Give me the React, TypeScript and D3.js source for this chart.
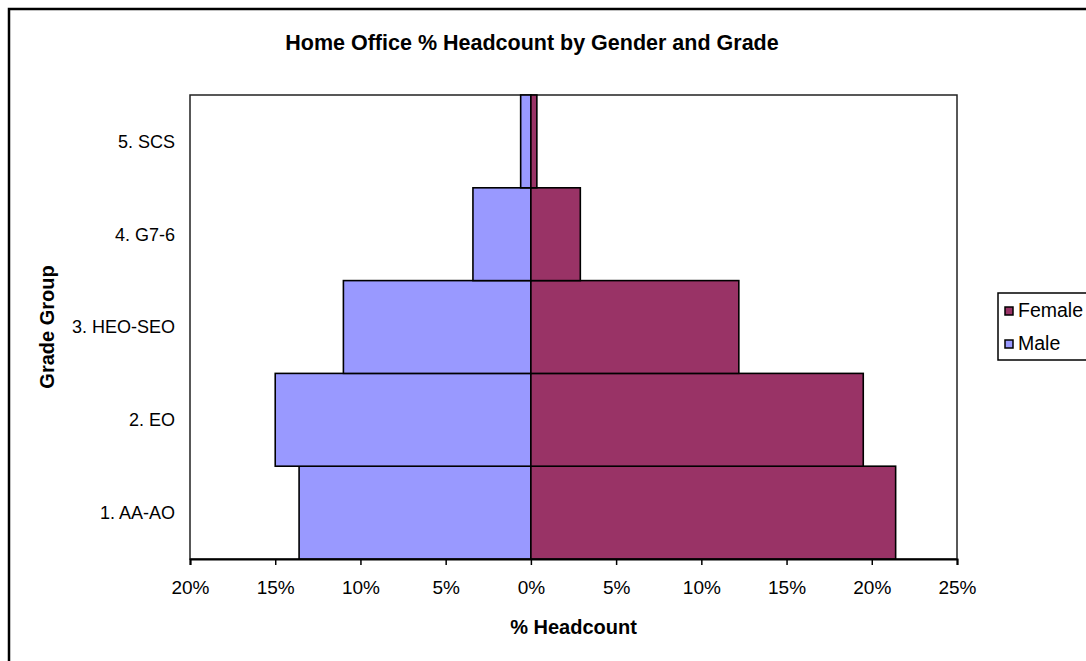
import React, { useRef, useEffect } from "react";
import * as d3 from "d3";

// grade groups, bottom to top
const grades = ["1. AA-AO", "2. EO", "3. HEO-SEO", "4. G7-6", "5. SCS"];
// % of headcount
const malePct = [13.6, 15.0, 11.0, 3.4, 0.6];
const femalePct = [21.4, 19.5, 12.2, 2.9, 0.35];
const xTicks = [-20, -15, -10, -5, 0, 5, 10, 15, 20, 25];

const FONT = "'Liberation Sans', Arial, sans-serif";

export default function App() {
    const svgRef = useRef<SVGSVGElement | null>(null);

    useEffect(() => {
        if (!svgRef.current) return;
        const width = 1086;
        const height = 661;
        const plot = { left: 190, right: 957, top: 95, bottom: 559 };

        const svg = d3.select(svgRef.current);
        svg.selectAll("*").remove();

        svg.append("rect")
            .attr("width", width)
            .attr("height", height)
            .attr("fill", "#fff");

        // chart frame (runs off the right/bottom edge)
        svg.append("rect")
            .attr("x", 9)
            .attr("y", 9)
            .attr("width", 1100)
            .attr("height", 700)
            .attr("fill", "none")
            .attr("stroke", "#000")
            .attr("stroke-width", 2.5);

        const x = d3.scaleLinear().domain([-20, 25]).range([plot.left, plot.right]);
        const y = d3
            .scaleBand<string>()
            .domain(grades)
            .range([plot.bottom, plot.top])
            .padding(0);

        // plot area border
        svg.append("rect")
            .attr("x", plot.left)
            .attr("y", plot.top)
            .attr("width", plot.right - plot.left)
            .attr("height", plot.bottom - plot.top)
            .attr("fill", "none")
            .attr("stroke", "#222")
            .attr("stroke-width", 1.5);

        const bars = svg.append("g");
        grades.forEach((g, i) => {
            bars.append("rect")
                .attr("x", x(-malePct[i]))
                .attr("y", y(g)!)
                .attr("width", x(0) - x(-malePct[i]))
                .attr("height", y.bandwidth())
                .attr("fill", "#9999FF")
                .attr("stroke", "#000")
                .attr("stroke-width", 1.6);
            bars.append("rect")
                .attr("x", x(0))
                .attr("y", y(g)!)
                .attr("width", x(femalePct[i]) - x(0))
                .attr("height", y.bandwidth())
                .attr("fill", "#993366")
                .attr("stroke", "#000")
                .attr("stroke-width", 1.6);
        });

        // x axis
        const xAxis = svg
            .append("g")
            .attr("transform", `translate(0,${plot.bottom})`)
            .call(
                d3
                    .axisBottom(x)
                    .tickValues(xTicks)
                    .tickSize(6)
                    .tickPadding(16)
                    .tickFormat((d) => `${Math.abs(+d)}%`),
            );
        xAxis.select(".domain").attr("stroke", "#000").attr("stroke-width", 2);
        xAxis.selectAll(".tick line").attr("stroke", "#000").attr("stroke-width", 1.5);
        xAxis.selectAll("text")
            .attr("font-family", FONT)
            .attr("font-size", 19)
            .attr("fill", "#000");

        // category labels
        svg.append("g")
            .selectAll("text")
            .data(grades)
            .join("text")
            .attr("x", plot.left - 15)
            .attr("y", (d) => y(d)! + y.bandwidth() / 2)
            .attr("dy", "0.35em")
            .attr("text-anchor", "end")
            .attr("font-family", FONT)
            .attr("font-size", 18)
            .text((d) => d);

        // titles
        svg.append("text")
            .attr("x", 532)
            .attr("y", 50)
            .attr("text-anchor", "middle")
            .attr("font-family", FONT)
            .attr("font-weight", "bold")
            .attr("font-size", 21.5)
            .text("Home Office % Headcount by Gender and Grade");

        svg.append("text")
            .attr("x", (plot.left + plot.right) / 2)
            .attr("y", 634)
            .attr("text-anchor", "middle")
            .attr("font-family", FONT)
            .attr("font-weight", "bold")
            .attr("font-size", 20)
            .text("% Headcount");

        svg.append("text")
            .attr("transform", `translate(54,${(plot.top + plot.bottom) / 2}) rotate(-90)`)
            .attr("text-anchor", "middle")
            .attr("font-family", FONT)
            .attr("font-weight", "bold")
            .attr("font-size", 20)
            .text("Grade Group");

        // legend
        const legend = svg.append("g").attr("transform", "translate(998,293)");
        legend.append("rect")
            .attr("width", 120)
            .attr("height", 67)
            .attr("fill", "#fff")
            .attr("stroke", "#000")
            .attr("stroke-width", 1.5);
        const items = [
            { label: "Female", color: "#993366" },
            { label: "Male", color: "#9999FF" },
        ];
        items.forEach((it, i) => {
            legend.append("rect")
                .attr("x", 7)
                .attr("y", 14 + i * 33)
                .attr("width", 8)
                .attr("height", 8)
                .attr("fill", it.color)
                .attr("stroke", "#000")
                .attr("stroke-width", 1.5);
            legend.append("text")
                .attr("x", 20)
                .attr("y", 24 + i * 33)
                .attr("font-family", FONT)
                .attr("font-size", 19.5)
                .text(it.label);
        });
    }, []);

    return (
        <svg
            ref={svgRef}
            width={1086}
            height={661}
            style={{ position: "absolute", left: 0, top: 0 }}
        ></svg>
    );
}
